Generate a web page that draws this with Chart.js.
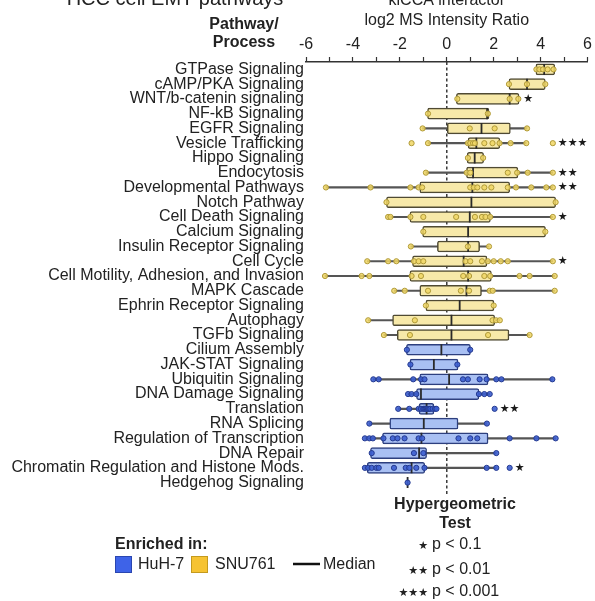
<!DOCTYPE html>
<html>
<head>
<meta charset="utf-8">
<script src="https://cdn.jsdelivr.net/npm/chart.js@4.4.1/dist/chart.umd.min.js"></script>
<style>
  html, body { margin: 0; padding: 0; background: #fff; overflow: hidden; }
  #wrap { position: absolute; left: 0; top: -10px; width: 595px; height: 611px; }
</style>
</head>
<body>
<div id="wrap"><canvas id="boxChart"></canvas></div>
<script>
// pathway rows, top to bottom
const pathways = [
  'GTPase Signaling', 'cAMP/PKA Signaling', 'WNT/b-catenin signaling', 'NF-kB Signaling',
  'EGFR Signaling', 'Vesicle Trafficking', 'Hippo Signaling', 'Endocytosis',
  'Developmental Pathways', 'Notch Pathway', 'Cell Death Signaling', 'Calcium Signaling',
  'Insulin Receptor Signaling', 'Cell Cycle', 'Cell Motility, Adhesion, and Invasion',
  'MAPK Cascade', 'Ephrin Receptor Signaling', 'Autophagy', 'TGFb Signaling',
  'Cilium Assembly', 'JAK-STAT Signaling', 'Ubiquitin Signaling', 'DNA Damage Signaling',
  'Translation', 'RNA Splicing', 'Regulation of Transcription', 'DNA Repair',
  'Chromatin Regulation and Histone Mods.', 'Hedgehog Signaling'
];
const enrichedIn = [
  'SNU761', 'SNU761', 'SNU761', 'SNU761', 'SNU761', 'SNU761', 'SNU761', 'SNU761', 'SNU761', 'SNU761',
  'SNU761', 'SNU761', 'SNU761', 'SNU761', 'SNU761', 'SNU761', 'SNU761', 'SNU761', 'SNU761',
  'HuH-7', 'HuH-7', 'HuH-7', 'HuH-7', 'HuH-7', 'HuH-7', 'HuH-7', 'HuH-7', 'HuH-7', 'HuH-7'
];

// log2 MS intensity ratio summaries
const q1 = [3.8, 2.65, 0.41, -0.82, 0.0, 0.91, 0.87, 0.84, -1.15, -2.57, -1.57, -1.03, -0.4, -1.46, -1.57,
  -1.15, -0.89, -2.31, -2.11, -1.72, -1.57, -1.15, -1.29, -1.18, -2.43, -2.74, -3.25, -3.39, null];
const q3 = [4.6, 4.2, 3.08, 1.8, 2.71, 2.26, 1.57, 3.03, 2.68, 4.64, 1.86, 4.21, 1.4, 1.71, 1.9,
  1.48, 2.01, 2.04, 2.65, 1.01, 0.48, 1.76, 1.37, -0.55, 0.48, 1.76, -0.86, -0.94, null];
const medians = [4.15, 3.42, 2.68, 1.72, 1.48, 1.26, 1.19, 1.12, 1.09, 1.05, 0.98, 0.91, 0.91, 0.72, 0.91,
  0.84, 0.55, 0.2, 0.2, -0.23, -0.55, 0.1, -1.1, -0.86, -0.98, -1.08, -1.18, -1.5, -1.67];
const whiskerLow = [3.8, 2.65, 0.41, -0.82, -1.03, -0.8, 0.87, -0.89, -5.15, -2.57, -2.5, -1.03, -1.53, -3.39, -5.19,
  -2.24, -0.89, -3.35, -2.68, -1.72, -1.57, -3.13, -1.65, -2.07, -3.3, -3.49, -3.25, -3.49, null];
const whiskerHigh = [4.6, 4.2, 3.08, 1.8, 3.42, 3.39, 1.57, 4.52, 4.52, 4.64, 4.52, 4.21, 1.8, 4.52, 4.6,
  4.6, 2.01, 2.26, 3.53, 1.01, 0.48, 4.5, 1.83, -0.44, 1.71, 4.64, 2.11, 2.11, null];

// individual interactors per pathway
const interactors = [
  [3.82, 3.95, 4.1, 4.3, 4.55],
  [2.65, 3.42, 4.2],
  [0.45, 2.68, 3.05],
  [-0.8, 1.75],
  [-1.03, 0.98, 2.04, 3.42],
  [-1.5, -0.8, 0.9, 1.0, 1.12, 1.2, 1.6, 1.95, 2.25, 2.72, 3.39, 4.52],
  [0.9, 1.55],
  [-0.89, 0.85, 1.0, 2.6, 3.0, 3.45, 4.52],
  [-5.15, -3.25, -1.55, -1.2, -1.05, 1.0, 1.15, 1.3, 1.6, 1.9, 2.6, 2.95, 3.6, 4.24, 4.52],
  [-2.57, 4.64],
  [-2.5, -2.4, -1.55, -1.0, 0.4, 1.2, 1.5, 1.65, 1.85, 4.52],
  [-1.0, 4.2],
  [-1.53, 0.9, 1.8],
  [-3.39, -2.5, -2.15, -1.4, -1.2, -1.0, 0.8, 1.0, 1.5, 1.75, 2.0, 2.3, 2.6, 4.52],
  [-5.19, -3.63, -3.3, -1.5, -1.1, 0.7, 0.95, 1.6, 1.85, 3.1, 3.53, 4.6],
  [-2.24, -1.79, -0.8, 0.6, 0.95, 1.83, 1.96, 4.6],
  [-0.89, 2.0],
  [-3.35, -1.36, 1.95, 2.1, 2.26],
  [-2.68, -1.57, 1.76, 3.53],
  [-1.7, 1.0],
  [-1.55, 0.45],
  [-3.13, -2.9, -1.43, -1.1, -0.95, 0.69, 0.9, 1.4, 1.7, 2.11, 2.33, 4.5],
  [-1.65, -1.5, -1.3, 1.37, 1.6, 1.83],
  [-2.07, -1.6, -1.2, -1.1, -1.0, -0.95, -0.9, -0.85, -0.8, -0.75, -0.7, -0.6, -0.5, -0.44, 2.04],
  [-3.3, 1.71],
  [-3.49, -3.3, -3.15, -2.7, -2.3, -2.1, -1.8, -1.2, -1.05, 0.5, 1.0, 1.3, 2.68, 3.82, 4.64],
  [-3.2, -1.4, -1.0, 2.11],
  [-3.49, -3.35, -3.2, -3.0, -2.9, -2.25, -1.75, -1.6, -1.3, -0.95, 1.7, 2.11, 2.68],
  [-1.67]
];

// hypergeometric test marks
const significance = ['', '', '*', '', '', '***', '', '**', '**', '', '*', '', '', '*', '', '', '', '', '',
  '', '', '', '', '**', '', '', '', '*', ''];

const FONT = '"Liberation Sans", Arial, sans-serif';
const TEXT = '#222';
const palette = {
  'SNU761': { fill: '#f7e9a9', edge: '#4f4a33', dot: 'rgba(240,214,100,0.85)', dotEdge: '#b09a38', key: '#f6c332', keyEdge: '#c49a1e' },
  'HuH-7': { fill: '#a9c0f3', edge: '#2d3f7e', dot: 'rgba(60,94,208,0.9)', dotEdge: '#243a90', key: '#3e63e8', keyEdge: '#2a46b0' }
};

Chart.defaults.font.family = FONT;

function pointsFor(group) {
  const out = [];
  interactors.forEach((vals, i) => {
    if (enrichedIn[i] !== group) return;
    vals.forEach(v => out.push({ x: v, y: pathways[i] }));
  });
  return out;
}

const zeroLine = {
  id: 'zeroLine',
  beforeDatasetsDraw(chart) {
    const { ctx, chartArea, scales: { x } } = chart;
    const px = x.getPixelForValue(0);
    ctx.save();
    ctx.strokeStyle = '#3a3a3a';
    ctx.lineWidth = 1.5;
    ctx.setLineDash([3, 2.5]);
    ctx.beginPath();
    ctx.moveTo(px, chartArea.top);
    ctx.lineTo(px, chartArea.bottom + 4);
    ctx.stroke();
    ctx.restore();
  }
};

const starMarks = {
  id: 'starMarks',
  afterDatasetsDraw(chart) {
    const { ctx, scales: { x, y } } = chart;
    ctx.save();
    ctx.fillStyle = '#1a1a1a';
    ctx.font = '11px "DejaVu Sans", sans-serif';
    ctx.textAlign = 'left';
    ctx.textBaseline = 'middle';
    significance.forEach((s, i) => {
      if (!s) return;
      const top = Math.max(...interactors[i]);
      ctx.fillText(s.replace(/\*/g, '★'), x.getPixelForValue(top) + 5, y.getPixelForValue(i));
    });
    ctx.restore();
  }
};

// titles and legend, page coords shifted by the 10px canvas offset
const annotations = {
  id: 'annotations',
  afterDraw(chart) {
    const ctx = chart.ctx;
    const dy = 10;
    ctx.save();
    ctx.fillStyle = TEXT;
    ctx.textAlign = 'center';
    ctx.textBaseline = 'alphabetic';
    ctx.font = '20px ' + FONT;
    ctx.fillText('HCC cell EMT pathways', 175, 5 + dy);

    ctx.textBaseline = 'middle';
    ctx.font = 'bold 16px ' + FONT;
    ctx.fillText('Pathway/', 244, 25 + dy);
    ctx.fillText('Process', 244, 43 + dy);
    ctx.fillText('Hypergeometric', 455, 505 + dy);
    ctx.fillText('Test', 455, 524 + dy);

    ctx.textAlign = 'left';
    ctx.fillText('Enriched in:', 115, 545 + dy);

    ctx.font = '16px ' + FONT;
    const keys = [['HuH-7', 115, 138], ['SNU761', 191, 215]];
    keys.forEach(([name, bx, tx]) => {
      ctx.fillStyle = palette[name].key;
      ctx.strokeStyle = palette[name].keyEdge;
      ctx.lineWidth = 1;
      ctx.fillRect(bx, 556 + dy, 17, 17);
      ctx.strokeRect(bx + 0.5, 556.5 + dy, 16, 16);
      ctx.fillStyle = TEXT;
      ctx.fillText(name, tx, 565 + dy);
    });
    ctx.strokeStyle = '#111';
    ctx.lineWidth = 2.5;
    ctx.beginPath();
    ctx.moveTo(293, 564 + dy);
    ctx.lineTo(320, 564 + dy);
    ctx.stroke();
    ctx.fillText('Median', 323, 565 + dy);

    const pRows = [['*', 'p < 0.1', 545], ['**', 'p < 0.01', 570], ['***', 'p < 0.001', 592]];
    pRows.forEach(([s, txt, yy]) => {
      ctx.font = '11px "DejaVu Sans", sans-serif';
      ctx.textAlign = 'right';
      ctx.fillText(s.replace(/\*/g, '★'), 428, yy + 1 + dy);
      ctx.font = '16px ' + FONT;
      ctx.textAlign = 'left';
      ctx.fillText(txt, 432, yy + dy);
    });
    ctx.restore();
  }
};

new Chart(document.getElementById('boxChart'), {
  type: 'bar',
  data: {
    labels: pathways,
    datasets: [
      {
        type: 'scatter',
        label: 'SNU761 interactors',
        data: pointsFor('SNU761'),
        indexAxis: 'y',
        order: 0,
        pointRadius: 2.6,
        pointBorderWidth: 1,
        pointBackgroundColor: palette['SNU761'].dot,
        pointBorderColor: palette['SNU761'].dotEdge
      },
      {
        type: 'scatter',
        label: 'HuH-7 interactors',
        data: pointsFor('HuH-7'),
        indexAxis: 'y',
        order: 0,
        pointRadius: 2.6,
        pointBorderWidth: 1,
        pointBackgroundColor: palette['HuH-7'].dot,
        pointBorderColor: palette['HuH-7'].dotEdge
      },
      {
        type: 'scatter',
        label: 'Median',
        data: medians.map((m, i) => ({ x: m, y: pathways[i] })),
        indexAxis: 'y',
        order: 1,
        pointStyle: 'line',
        pointRotation: 90,
        pointRadius: 5.5,
        pointBorderWidth: 1.8,
        pointBorderColor: '#2a2a2a'
      },
      {
        label: 'IQR',
        data: q1.map((v, i) => (v === null ? null : [v, q3[i]])),
        order: 2,
        grouped: false,
        barThickness: 11,
        borderWidth: 1.5,
        borderRadius: 2,
        borderSkipped: false,
        backgroundColor: enrichedIn.map(g => palette[g].fill),
        borderColor: enrichedIn.map(g => palette[g].edge)
      },
      {
        label: 'Range',
        data: whiskerLow.map((v, i) => (v === null ? null : [v, whiskerHigh[i]])),
        order: 3,
        grouped: false,
        barThickness: 1.5,
        borderWidth: 0,
        backgroundColor: '#555'
      }
    ]
  },
  options: {
    indexAxis: 'y',
    responsive: true,
    maintainAspectRatio: false,
    animation: false,
    layout: { padding: { left: 0, right: 7, top: 0, bottom: 111 } },
    plugins: { legend: { display: false }, tooltip: { enabled: false } },
    scales: {
      x: {
        type: 'linear',
        position: 'top',
        min: -6,
        max: 6,
        ticks: {
          stepSize: 1,
          autoSkip: false,
          maxRotation: 0,
          padding: 3,
          color: TEXT,
          font: { size: 16 },
          callback: v => (v % 2 === 0 ? String(v) : '')
        },
        grid: { drawOnChartArea: false, drawTicks: true, tickLength: 5, tickColor: '#333', tickWidth: 1.2 },
        border: { display: true, color: '#333', width: 1.5 },
        title: {
          display: true,
          text: ['kiCCA interactor', 'log2 MS Intensity Ratio'],
          color: TEXT,
          font: { size: 16, lineHeight: 1.25 },
          padding: { top: 1, bottom: 0 }
        },
        afterFit: s => { s.height = 72; }
      },
      y: {
        type: 'category',
        offset: true,
        grid: { display: false, drawTicks: false },
        border: { display: false },
        ticks: { autoSkip: false, padding: 2, color: TEXT, font: { size: 16 } },
        afterFit: s => { s.width = 306; }
      }
    }
  },
  plugins: [zeroLine, starMarks, annotations]
});
</script>
</body>
</html>
